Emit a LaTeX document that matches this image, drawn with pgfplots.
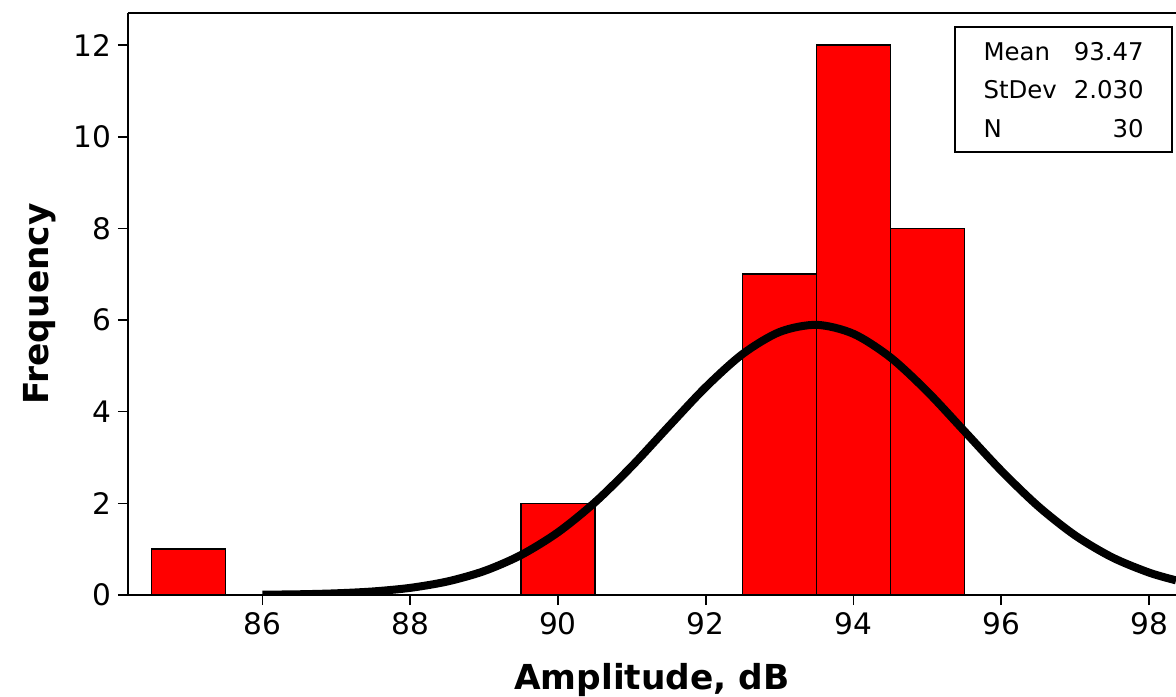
\documentclass[border=0pt]{standalone}
\usepackage{fontspec}
\setmainfont{DejaVu Sans}
\usepackage{pgfplots}
\pgfplotsset{compat=1.18}

\begin{document}
\begin{tikzpicture}
\begin{axis}[
  scale only axis, width=524pt, height=291pt,
  xmin=84.18, xmax=98.365, ymin=0, ymax=12.7,
  axis x line*=bottom, axis y line*=left,
  axis line style={line width=1pt},
  xtick={86,88,...,98}, ytick={0,2,...,12},
  tick align=outside, major tick length=5pt,
  tick style={line width=0.8pt,black},
  /pgf/number format/assume math mode=true,
  ticklabel style={font=\fontsize{14.8}{17}\selectfont},
  xlabel={\textbf{Amplitude, dB}}, ylabel={\textbf{Frequency}},
  label style={font=\fontsize{17.2}{21}\selectfont},
  xlabel style={at={(axis description cs:0.5,-0.1632)}, anchor=base},
  ylabel style={at={(axis description cs:-0.0763,0.5)}, anchor=base},
]
% histogram, bins of width 1
\addplot[ybar, bar width=1, fill=red, draw=black, line width=0.8pt] coordinates {
  (85,1) (90,2) (93,7) (94,12) (95,8)};
% fitted normal curve (mean 93.47, sd 2.030, N 30)
\addplot[smooth, black, line width=4pt] coordinates {
  (86,0.007) (86.5,0.016) (87,0.037) (87.5,0.078) (88,0.156) (88.5,0.294)
  (89,0.522) (89.5,0.872) (90,1.368) (90.5,2.022) (91,2.812) (91.5,3.682)
  (92,4.536) (92.5,5.260) (93,5.740) (93.5,5.895) (94,5.699) (94.5,5.184)
  (95,4.438) (95.5,3.576) (96,2.712) (96.5,1.936) (97,1.300) (97.5,0.822)
  (98,0.489) (98.365,0.320)};
\draw[line width=1pt] (rel axis cs:0,1) -- (rel axis cs:1,1);
\coordinate (sw) at (rel axis cs:0,0);
\coordinate (ne) at (rel axis cs:1,1);
\node[draw, line width=1pt, fill=white, anchor=north east, inner xsep=0pt, inner ysep=2.4pt,
  minimum width=108.8pt, minimum height=62.5pt, align=left,
  font=\fontsize{12.2}{19.25}\selectfont] at (axis cs:98.33,12.41) {%
  \makebox[40pt][l]{Mean}\makebox[40pt][r]{93.47}\\
  \makebox[40pt][l]{StDev}\makebox[40pt][r]{2.030}\\
  \makebox[40pt][l]{N}\makebox[40pt][r]{30}};
\end{axis}
\pgfresetboundingbox
\path ([xshift=-64pt,yshift=-50.5pt]sw) rectangle ([yshift=6.5pt]ne);
\end{tikzpicture}
\end{document}
